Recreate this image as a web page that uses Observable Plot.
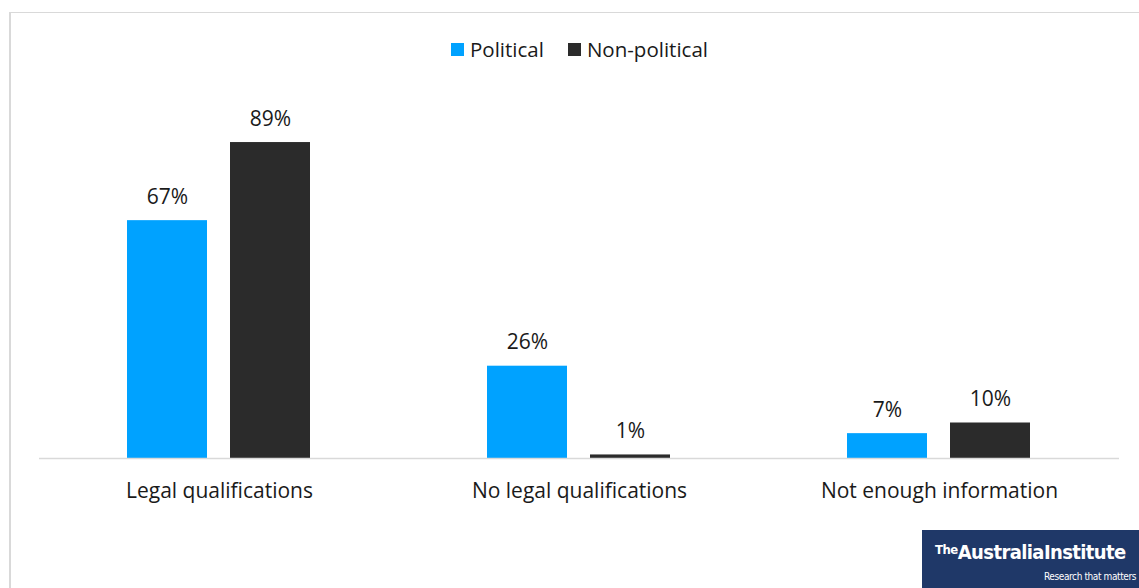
<!DOCTYPE html>
<html>
<head>
<meta charset="utf-8">
<script src="https://cdn.jsdelivr.net/npm/d3@7"></script>
<script src="https://cdn.jsdelivr.net/npm/@observablehq/plot@0.6"></script>
<style>
  html, body { margin: 0; padding: 0; background: #fff; }
  body { width: 1139px; height: 588px; position: relative; overflow: hidden; font-family: "Open Sans", sans-serif; }
  #frame { position: absolute; left: 9px; top: 12px; width: 1200px; height: 700px; border-left: 2px solid #d9d9d9; border-top: 1px solid #d9d9d9; }
  #chart { position: absolute; left: 0; top: 0; }
  #legend { position: absolute; top: 35px; left: 0; width: 1139px; display: flex; justify-content: center; align-items: center; font-size: 20.5px; color: #1a1a1a; padding-left: 20px; box-sizing: border-box; }
  .item { display: flex; align-items: center; margin: 0 12px; }
  .sw { width: 13px; height: 13px; margin-right: 6px; }
  #logo { position: absolute; left: 922px; top: 530px; width: 217px; height: 58px; background: #1f3868; color: #fff; overflow: hidden; }
  #logo .main { position: absolute; left: 13px; top: 10px; font-family: "DejaVu Sans Condensed", "DejaVu Sans", sans-serif; font-weight: bold; font-size: 20px; letter-spacing: -0.6px; white-space: nowrap; }
  #logo .the { font-size: 13px; letter-spacing: -0.5px; vertical-align: 5px; }
  #logo .sub { position: absolute; right: 3px; top: 41px; font-family: "DejaVu Sans Condensed", sans-serif; font-size: 10px; letter-spacing: -0.4px; white-space: nowrap; }
</style>
</head>
<body>
<div id="frame"></div>
<div id="chart"></div>
<div id="legend"></div>
<div id="logo"><div class="main"><span class="the">The</span>AustraliaInstitute</div><div class="sub">Research that matters</div></div>
<script>
const categories = ["Legal qualifications", "No legal qualifications", "Not enough information"];
const seriesNames = ["Political", "Non-political"];
const political = [67, 26, 7];
const nonPolitical = [89, 1, 10];
const colors = ["#00a2ff", "#2b2b2b"];

const data = [];
categories.forEach((c, i) => {
  data.push({category: c, series: seriesNames[0], value: political[i]});
  data.push({category: c, series: seriesNames[1], value: nonPolitical[i]});
});

const chart = Plot.plot({
  width: 1139,
  height: 588,
  marginTop: 103,
  marginBottom: 130,
  marginLeft: 39,
  marginRight: 20,
  style: {fontFamily: "Open Sans, sans-serif", fontSize: "21px", color: "#1a1a1a", background: "transparent"},
  fx: {domain: categories, padding: 0, label: null, axis: null},
  x: {domain: seriesNames, paddingInner: 0.223, paddingOuter: 0.859, axis: null},
  y: {domain: [0, 100], axis: null},
  color: {domain: seriesNames, range: colors},
  marks: [
    Plot.barY(data, {fx: "category", x: "series", y: "value", fill: "series"}),
    Plot.ruleY([0], {stroke: "#d9d9d9", strokeWidth: 1.5}),
    Plot.text(data, {fx: "category", x: "series", y: "value", text: d => d.value + "%", dy: -17, lineAnchor: "bottom", fill: "#1a1a1a", fontSize: 21}),
    Plot.axisFx({anchor: "bottom", tickSize: 0, tickPadding: 25, label: null, fontSize: 21, fill: "#1a1a1a"})
  ]
});
document.getElementById("chart").appendChild(chart);

const legend = document.getElementById("legend");
seriesNames.forEach((s, i) => {
  const it = document.createElement("div");
  it.className = "item";
  const sw = document.createElement("div");
  sw.className = "sw";
  sw.style.background = colors[i];
  const t = document.createElement("span");
  t.textContent = s;
  it.appendChild(sw);
  it.appendChild(t);
  legend.appendChild(it);
});
</script>
</body>
</html>
